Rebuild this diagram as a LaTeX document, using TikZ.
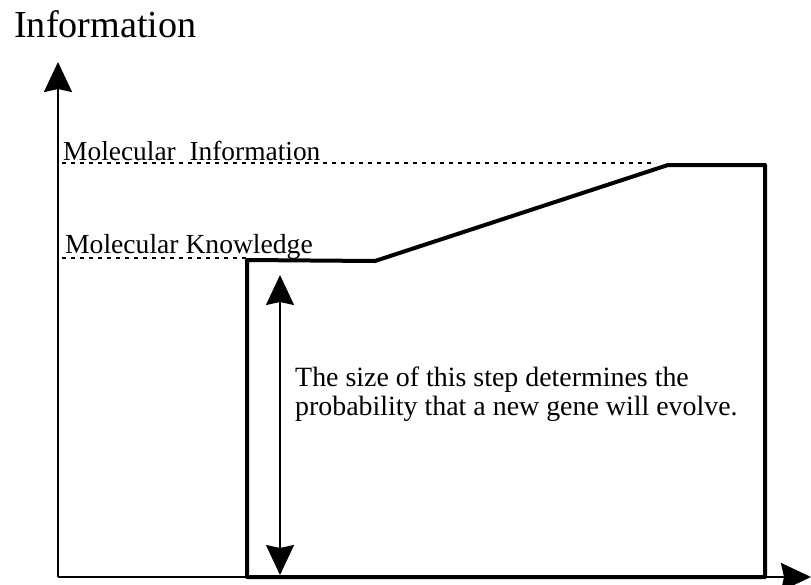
\documentclass[tikz,border=0pt]{standalone}
\usepackage{fontspec}
\setmainfont{Liberation Serif}
\usetikzlibrary{arrows.meta}
\begin{document}
\begin{tikzpicture}[x=1pt,y=-1pt,
  axis/.style={line width=2pt,-{Stealth[length=30pt,width=28pt,inset=3pt]}},
  stepline/.style={line width=4pt,line join=round},
  guide/.style={line width=1.2pt,dash pattern=on 4pt off 5pt},
  sizearrow/.style={line width=1.6pt,{Stealth[length=30pt,width=28pt,inset=3pt]}-{Stealth[length=30pt,width=28pt,inset=3pt]}},
  lbl/.style={inner sep=0pt,anchor=base west}]
\useasboundingbox (0,0) rectangle (811,584);
\fill[white] (0,0) rectangle (811,584);
% axes
\coordinate (o) at (58,577);
\coordinate (ytip) at (58,62);
\coordinate (xtip) at (811,577);
\draw[axis] (o) -- (ytip);
\draw[axis] (o) -- (xtip);
\node[lbl,font=\fontsize{38.2}{40}\selectfont] (ylab) at (14,37) {Information};
% guides and labels
\coordinate (mi0) at (62,163);
\coordinate (mi1) at (656,163);
\coordinate (mk0) at (62,258);
\coordinate (mk1) at (247,258);
\draw[guide] (mi0) -- (mi1);
\draw[guide] (mk0) -- (mk1);
\node[lbl,font=\fontsize{27.4}{29}\selectfont] (milab) at (63,160) {Molecular\ \ Information};
\node[lbl,font=\fontsize{27.6}{29}\selectfont] (mklab) at (65,253) {Molecular Knowledge};
% step outline
\coordinate (a) at (247,577);
\coordinate (b) at (247,260);
\coordinate (c) at (375,261);
\coordinate (d) at (668,165);
\coordinate (e) at (765,165);
\coordinate (f) at (765,577);
\draw[stepline] (a) -- (b) -- (c) -- (d) -- (e) -- (f) -- cycle;
% size arrow
\coordinate (s0) at (280,275);
\coordinate (s1) at (280,575);
\draw[sizearrow] (s0) -- (s1);
\node[lbl,font=\fontsize{27.9}{28.3}\selectfont,align=left] (note) at (295,415)
  {The size of this step determines the\\probability that a new gene will evolve.};
\end{tikzpicture}
\end{document}
